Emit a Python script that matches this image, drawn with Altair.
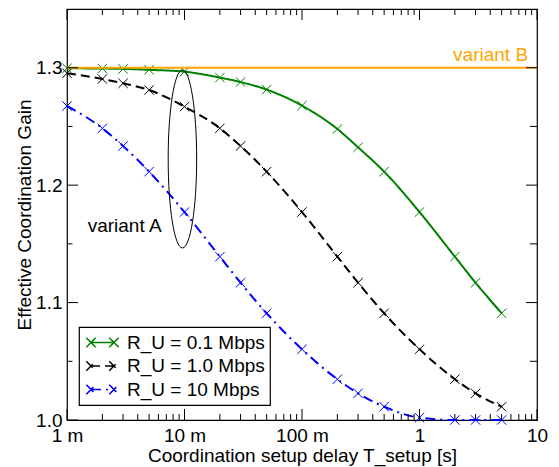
import altair as alt
import pandas as pd

# ---------------- data ----------------
t_values = [0.001, 0.002, 0.003, 0.005, 0.01, 0.02, 0.03, 0.05,
            0.1, 0.2, 0.3, 0.5, 1, 2, 3, 5]
gain_01 = [1.2995, 1.2993, 1.2990, 1.2982, 1.2966, 1.2916, 1.2878, 1.2814,
           1.2677, 1.2478, 1.2322, 1.2115, 1.1771, 1.1391, 1.1169, 1.0909]
gain_10 = [1.2953, 1.2904, 1.2867, 1.2810, 1.2668, 1.2484, 1.2333, 1.2115,
           1.1771, 1.1391, 1.1169, 1.0909, 1.0602, 1.0347, 1.0227, 1.0113]
gain_100 = [1.2674, 1.2484, 1.2333, 1.2115, 1.1771, 1.1391, 1.1169, 1.0909,
            1.0602, 1.0347, 1.0227, 1.0113, 1.0020, 1.0000, 1.0000, 1.0000]
series_labels = ["R_U = 0.1 Mbps", "R_U = 1.0 Mbps", "R_U = 10 Mbps"]
series_colors = ["#008000", "#000000", "#0000ff"]
series_dashes = [[1, 0], [9, 5], [10, 5, 2, 5]]

variant_b_gain = 1.3
variant_b_label = ["variant B"]
variant_b_x = [8.4]
variant_a_label = ["variant A"]
variant_a_x = [0.0015]
variant_a_y = [1.160]
ellipse_x = [0.0096]
ellipse_y = [1.2223]

x_major = [0.001, 0.01, 0.1, 1, 10]
x_major_labels = ["1 m", "10 m", "100 m", "1", "10"]
x_minor = [0.002, 0.003, 0.004, 0.005, 0.006, 0.007, 0.008, 0.009,
           0.02, 0.03, 0.04, 0.05, 0.06, 0.07, 0.08, 0.09,
           0.2, 0.3, 0.4, 0.5, 0.6, 0.7, 0.8, 0.9,
           2, 3, 4, 5, 6, 7, 8, 9]
y_major = [1.0, 1.1, 1.2, 1.3]
y_minor = [1.05, 1.15, 1.25]

x_title = "Coordination setup delay T_setup [s]"
y_title = "Effective Coordination Gain"

# ---------------- tables ----------------
rows = []
for lab, vals in zip(series_labels, [gain_01, gain_10, gain_100]):
    for t, g in zip(t_values, vals):
        rows.append({"t": t, "gain": g, "series": lab})
df = pd.DataFrame(rows)
df_b = pd.DataFrame({"gain": [variant_b_gain], "x": variant_b_x, "label": variant_b_label})
df_a = pd.DataFrame({"x": variant_a_x, "gain": variant_a_y, "label": variant_a_label})
df_e = pd.DataFrame({"x": ellipse_x, "gain": ellipse_y})

W, H = 470, 411
FONT = "Liberation Sans"
FS = 19

xscale = alt.Scale(type="log", domain=[0.001, 10], nice=False)
yscale = alt.Scale(domain=[1.0, 1.35], nice=False, zero=False)

label_arr = "[" + ",".join("'" + s + "'" for s in x_major_labels) + "]"
x_label_expr = label_arr + "[round(log(datum.value)/LN10)+3]"

color_enc = alt.Color("series:N", scale=alt.Scale(domain=series_labels, range=series_colors),
                      legend=alt.Legend(title=None))
dash_enc = alt.StrokeDash("series:N", scale=alt.Scale(domain=series_labels, range=series_dashes),
                          legend=alt.Legend(title=None))

# main lines, carrying the (shared) labelled axes
lines = alt.Chart(df).mark_line(strokeWidth=2, interpolate="monotone").encode(
    x=alt.X("t:Q", scale=xscale,
            axis=alt.Axis(values=x_major, orient="bottom", ticks=False, domain=False, grid=False,
                          labelExpr=x_label_expr, labelPadding=6, labelFontSize=FS,
                          labelFlush=False,
                          title=x_title, titleY=41, titleBaseline="alphabetic",
                          titleFontSize=FS, titleFontWeight="normal")),
    y=alt.Y("gain:Q", scale=yscale,
            axis=alt.Axis(values=y_major, orient="left", ticks=False, domain=False, grid=False,
                          format=".1f", labelPadding=5, labelFontSize=FS, labelFlush=False,
                          title=y_title, titleX=-37, titleBaseline="alphabetic",
                          titleFontSize=FS, titleFontWeight="normal")),
    color=color_enc,
    strokeDash=dash_enc,
    order="t:Q",
)

xmark = "M -1 -1 L 1 1 M -1 1 L 1 -1"
points = alt.Chart(df).mark_point(shape=xmark, size=88, filled=False, strokeWidth=1, opacity=1).encode(
    x=alt.X("t:Q", scale=xscale),
    y=alt.Y("gain:Q", scale=yscale),
    color=alt.Color("series:N", scale=alt.Scale(domain=series_labels, range=series_colors), legend=None),
)

orange = alt.Chart(df_b).mark_rule(color="#ffa500", strokeWidth=2).encode(
    y=alt.Y("gain:Q", scale=yscale),
)

ell_path = "M 0 -1 A 0.16 1 0 0 1 0 1 A 0.16 1 0 0 1 0 -1 Z"
ellipse = alt.Chart(df_e).mark_point(shape=ell_path, size=178 * 178, filled=False,
                                     stroke="black", strokeWidth=1, opacity=1).encode(
    x=alt.X("x:Q", scale=xscale),
    y=alt.Y("gain:Q", scale=yscale),
)

text_a = alt.Chart(df_a).mark_text(align="left", baseline="alphabetic", font=FONT,
                                   fontSize=FS, color="black").encode(
    x=alt.X("x:Q", scale=xscale),
    y=alt.Y("gain:Q", scale=yscale),
    text="label:N",
)

text_b = alt.Chart(df_b).mark_text(align="right", baseline="alphabetic", font=FONT,
                                   fontSize=FS, color="#ffa500", dy=-7).encode(
    x=alt.X("x:Q", scale=xscale),
    y=alt.Y("gain:Q", scale=yscale),
    text="label:N",
)


# inward tick marks, placed through the same scales
def x_ticks(values, length, top):
    y0, y1 = (0, length) if top else (H, H - length)
    return alt.Chart(pd.DataFrame({"t": values})).mark_rule(color="black", strokeWidth=1).encode(
        x=alt.X("t:Q", scale=xscale),
        y=alt.value(y0), y2=alt.value(y1),
    )


def y_ticks(values, length, right):
    x0, x1 = (W, W - length) if right else (0, length)
    return alt.Chart(pd.DataFrame({"gain": values})).mark_rule(color="black", strokeWidth=1).encode(
        y=alt.Y("gain:Q", scale=yscale),
        x=alt.value(x0), x2=alt.value(x1),
    )


ticks = [
    x_ticks(x_major, 11, False), x_ticks(x_minor, 6, False),
    x_ticks(x_major, 11, True), x_ticks(x_minor, 6, True),
    y_ticks(y_major, 11, False), y_ticks(y_minor, 5.5, False),
    y_ticks(y_major, 11, True), y_ticks(y_minor, 7, True),
]

u = 9.5
lx1, lx2, hs = -0.368, 2.05, 0.495
legend_path = (f"M {lx1} 0 L {lx2} 0 "
               f"M {lx1-hs} {-hs} L {lx1+hs} {hs} M {lx1-hs} {hs} L {lx1+hs} {-hs} "
               f"M {lx2-hs} {-hs} L {lx2+hs} {hs} M {lx2-hs} {hs} L {lx2+hs} {-hs}")

chart = alt.layer(lines, points, orange, ellipse, text_a, text_b, *ticks).properties(
    width=W, height=H,
    autosize=alt.AutoSizeParams(type="none"),
    padding={"left": 59, "top": 1, "right": 14, "bottom": 52},
).configure_view(
    stroke="black", strokeWidth=1.2
).configure_axis(
    labelFont=FONT, titleFont=FONT, labelColor="black", titleColor="black",
).configure_legend(
    orient="none", legendX=12, legendY=318,
    symbolType=legend_path, symbolSize=u * u * 4, symbolStrokeWidth=1.5,
    labelFont=FONT, labelFontSize=FS, labelColor="black", labelOffset=22,
    padding=5, rowPadding=2.5, strokeColor="black", fillColor="white",
    cornerRadius=0, strokeWidth=1.2,
)

chart.save("out.html", embed_options={"renderer": "svg", "actions": False})
